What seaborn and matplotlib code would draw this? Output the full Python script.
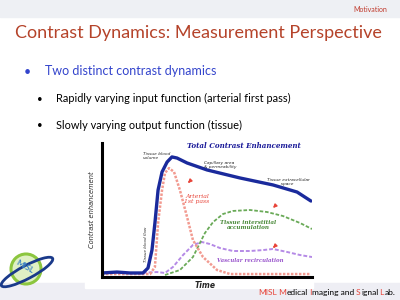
import matplotlib
matplotlib.use("Agg")
import matplotlib.pyplot as plt
import seaborn as sns
import pandas as pd
from matplotlib.patches import Rectangle, Circle, Ellipse, FancyArrowPatch

sns.set_theme(style="white")
plt.rcParams['font.family'] = ['Lato', 'DejaVu Sans']

# ---- data ----
blue_t = [0, 7.1, 13.3, 19.5, 21.9, 23.8, 25.2, 26.7, 28.6, 31.0, 33.3, 35.7, 40.5, 50.0, 65.7, 81.4, 92.9, 99.5]
blue_v = [3.0, 3.7, 3.0, 3.0, 6.7, 20.1, 40.3, 64.9, 78.4, 85.8, 89.6, 88.8, 85.1, 79.9, 73.9, 68.7, 63.4, 56.7]

red_t = [0, 22.9, 25.2, 26.7, 28.6, 30.0, 31.9, 34.3, 37.1, 40.5, 43.3, 48.1, 54.8, 61.0, 99.5]
red_v = [2.2, 2.2, 7.5, 40.3, 64.9, 77.6, 81.3, 78.4, 64.9, 44.8, 27.6, 14.9, 5.2, 2.2, 2.2]

green_t = [30.0, 37.1, 43.3, 49.0, 52.9, 57.6, 62.4, 70.5, 78.6, 86.2, 94.3, 100]
green_v = [1.5, 5.2, 14.9, 32.8, 41.0, 47.0, 49.3, 50.0, 48.5, 45.5, 40.3, 35.8]

purple_t = [0, 18.1, 26.2, 30.0, 33.8, 38.6, 43.3, 47.6, 51.4, 56.2, 62.4, 70.5, 76.7, 81.4, 88.1, 94.3, 100]
purple_v = [3.0, 3.0, 3.7, 3.0, 7.5, 16.4, 23.9, 26.1, 24.6, 21.6, 19.4, 19.4, 20.1, 20.9, 18.7, 16.4, 14.9]

footer_parts = ["MISL", " M", "edical", " I", "maging and", " S", "ignal", " L", "ab."]
footer_red = [True, True, False, True, False, True, False, True, False]

W, H = 400, 300
fig = plt.figure(figsize=(4, 3), dpi=100)
fig.patch.set_facecolor("white")

def P(x, y):
    return (x / W, 1 - y / H)

# bands
fig.patches.append(Rectangle(P(0, 17), 1, 17 / H, transform=fig.transFigure, color="#eef0f4", zorder=0))
fig.patches.append(Rectangle(P(0, 300), 1, 17 / H, transform=fig.transFigure, color="#eeeef4", zorder=0))

fig.text(*P(387, 10), "Motivation", color="#c0392b", fontsize=5, ha="right", va="center")
fig.text(*P(198, 33), "Contrast Dynamics: Measurement Perspective", color="#b5432a",
         fontsize=13, ha="center", va="center")
fig.text(*P(27, 72), "\u2022", color="#3344cc", fontsize=9, ha="center", va="center")
fig.text(*P(45, 71), "Two distinct contrast dynamics", color="#3344cc", fontsize=9, ha="left", va="center")
fig.text(*P(40, 99), "\u2022", color="black", fontsize=7, ha="center", va="center")
fig.text(*P(56, 98), "Rapidly varying input function (arterial first pass)", color="black", fontsize=7.9, ha="left", va="center")
fig.text(*P(40, 126), "\u2022", color="black", fontsize=7, ha="center", va="center")
fig.text(*P(56, 125), "Slowly varying output function (tissue)", color="black", fontsize=7.9, ha="left", va="center")

# chart white background
fig.patches.append(Rectangle(P(85, 288), 228 / W, 148 / H, transform=fig.transFigure, color="white", zorder=1))

ax = fig.add_axes([102 / W, (H - 277) / H, 210 / W, 134 / H])
ax.set_zorder(2)
ax.patch.set_alpha(0)

d_blue = pd.DataFrame({"t": blue_t, "v": blue_v})
d_red = pd.DataFrame({"t": red_t, "v": red_v})
d_green = pd.DataFrame({"t": green_t, "v": green_v})
d_purple = pd.DataFrame({"t": purple_t, "v": purple_v})

sns.lineplot(data=d_purple, x="t", y="v", ax=ax, color="#b58ae6", lw=1.4, linestyle=(0, (2, 1)), sort=False)
sns.lineplot(data=d_green, x="t", y="v", ax=ax, color="#6aaa58", lw=1.3, linestyle=(0, (2, 1)), sort=False)
sns.lineplot(data=d_red, x="t", y="v", ax=ax, color="#f29a90", lw=1.8, linestyle=(0, (1, 0.6)), sort=False)
sns.lineplot(data=d_blue, x="t", y="v", ax=ax, color="#1a2a9c", lw=2.4, sort=False)

ax.set_xlim(0, 100)
ax.set_ylim(0, 100)
ax.set_xticks([])
ax.set_yticks([])
for s in ["top", "right"]:
    ax.spines[s].set_visible(False)
for s in ["left", "bottom"]:
    ax.spines[s].set_color("black")
    ax.spines[s].set_linewidth(2.2)
ax.set_xlabel("")
ax.set_ylabel("")

fig.text(*P(205, 286), "Time", family=["DejaVu Sans"], fontsize=5.5, style="italic", weight="bold",
         ha="center", va="center", zorder=5)
fig.text(*P(92, 210), "Contrast enhancement", family=["DejaVu Sans"], fontsize=4.8, style="italic",
         rotation=90, ha="center", va="center", zorder=5)

serif = ["DejaVu Serif"]
small = ["DejaVu Sans"]
fig.text(*P(244, 146), "Total Contrast Enhancement", family=serif, fontsize=5.1, style="italic",
         weight="bold", color="#1a1a99", ha="center", va="center", zorder=5)
fig.text(*P(143, 156), "Tissue blood\nvolume", family=small, fontsize=3.2, style="italic", ha="left",
         va="center", linespacing=1.0, zorder=5)
fig.text(*P(204, 165), "Capillary area\n& permeability", family=small, fontsize=3.2, style="italic",
         ha="left", va="center", linespacing=1.0, zorder=5)
fig.text(*P(267, 182), "Tissue extracellular\n          space", family=small, fontsize=3.2,
         style="italic", ha="left", va="center", linespacing=1.0, zorder=5)
fig.text(*P(197, 199), "Arterial\n1st pass", family=serif, fontsize=4.4, style="italic", color="#e8453a",
         ha="center", va="center", linespacing=1.2, zorder=5)
fig.text(*P(248, 225), "Tissue interstitial\naccumulation", family=serif, fontsize=4.1, style="italic",
         weight="bold", color="#4a8a3a", ha="center", va="center", linespacing=1.2, zorder=5)
fig.text(*P(250, 261), "Vascular recirculation", family=serif, fontsize=3.9, style="italic",
         weight="bold", color="#9955cc", ha="center", va="center", zorder=5)
fig.text(*P(146, 244), "Tissue blood flow", family=small, fontsize=3.0, style="italic", rotation=90,
         ha="center", va="center", zorder=5)

for (x, y) in [(188, 183), (273, 208), (273, 248)]:
    fig.patches.append(FancyArrowPatch(P(x + 4, y - 4), P(x - 2, y + 2),
                       transform=fig.transFigure, arrowstyle="-|>", mutation_scale=5,
                       color="#e8453a", lw=1.0, zorder=5))

# logo (pixel-square axes)
lax = fig.add_axes([0, 0, 60 / W, 55 / H])
lax.set_zorder(3)
lax.set_xlim(0, 60)
lax.set_ylim(0, 55)
lax.axis("off")
cx, cy = 26, 300 - 269
lax.add_patch(Circle((cx, cy), 15, fc="#dff0c4", ec="#8cc63f", lw=2.2, zorder=2))
lax.add_patch(Ellipse((27, 300 - 272), 58, 13, angle=28, fill=False, ec="#1a3a8a", lw=2.0, zorder=3))
lax.text(cx - 1, cy + 2, "MISL", fontsize=6, color="#3b82c4", weight="bold", rotation=-30,
         ha="center", va="center", zorder=4)

# footer with coloured initials (chained annotations)
oax = fig.add_axes([0, 0, 1, 1])
oax.set_zorder(10)
oax.patch.set_alpha(0)
oax.axis("off")
oax.set_xlim(0, 1)
oax.set_ylim(0, 1)
t = oax.text(258 / W, 1 - 296 / H, footer_parts[0], fontsize=6, family=["Lato"],
             color="#e8453a" if footer_red[0] else "black", ha="left", va="bottom")
for part, red in zip(footer_parts[1:], footer_red[1:]):
    t = oax.annotate(part, xy=(1, 0), xycoords=t, fontsize=6, family=["Lato"],
                     color="#e8453a" if red else "black", ha="left", va="bottom")

fig.savefig("out.png", dpi=100)
